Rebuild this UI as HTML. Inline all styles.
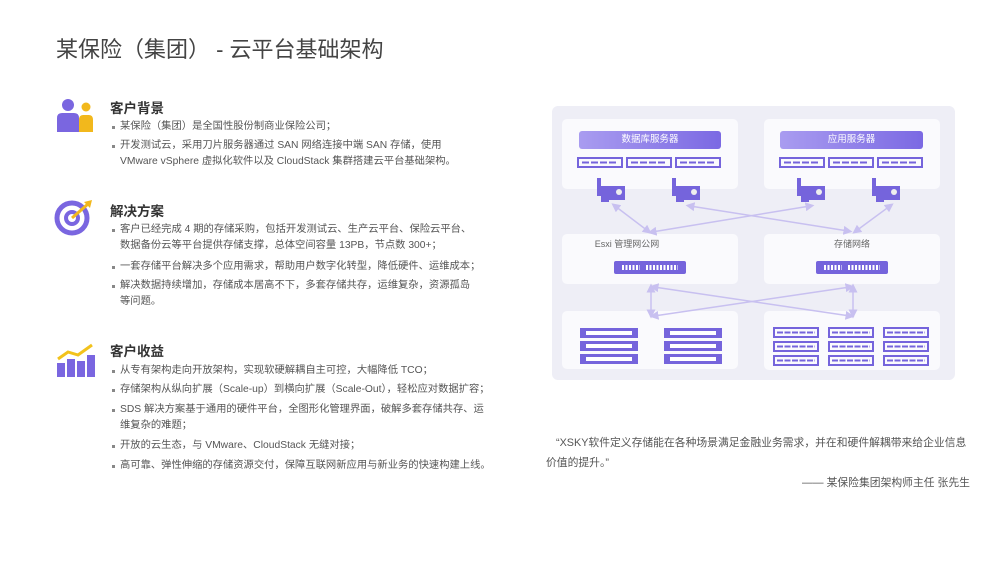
<!DOCTYPE html>
<html><head><meta charset="utf-8"><style>
body{margin:0;width:1000px;height:562px;background:#fff;position:relative;overflow:hidden;font-family:"Liberation Sans","Noto Sans CJK SC",sans-serif;color:#555}
.a{position:absolute;white-space:nowrap}
.t{font-size:10.3px;line-height:12px;color:#555}
.q{font-size:10.8px;line-height:12px;color:#555}
.h{font-size:13.5px;font-weight:bold;color:#333}
.b::before{content:"";position:absolute;left:-8px;top:5px;width:3px;height:3px;background:#888}
.box{position:absolute;background:#fafafd;border-radius:5px}
.lbl{position:absolute;font-size:9px;color:#666;text-align:center}
</style></head><body>
<div class="a" style="left:56px;top:32px;font-size:22px;color:#444">某保险（集团） - 云平台基础架构</div>

<svg class="a" style="left:56px;top:98px" width="40" height="34"><circle cx="12" cy="7" r="6" fill="#7a66e0"/><path d="M1 34 V20 Q1 15 6 15 H18 Q23 15 23 20 V34Z" fill="#7a66e0"/><circle cx="30" cy="9" r="4.5" fill="#f2b81c"/><path d="M23 34 V22 Q23 17 27 17 H33 Q37 17 37 22 V34Z" fill="#f2b81c"/></svg>
<svg class="a" style="left:54px;top:198px" width="40" height="38"><circle cx="18" cy="20" r="15" fill="none" stroke="#7a66e0" stroke-width="5"/><circle cx="18" cy="20" r="6" fill="none" stroke="#7a66e0" stroke-width="4"/><path d="M18 20 L34 6" stroke="#f2b81c" stroke-width="3"/><path d="M30 4 L38 2 L36 10Z" fill="#f2b81c"/></svg>
<svg class="a" style="left:56px;top:343px" width="40" height="36"><rect x="1" y="20" width="8" height="14" fill="#7a66e0"/><rect x="11" y="16" width="8" height="18" fill="#7a66e0"/><rect x="21" y="18" width="8" height="16" fill="#7a66e0"/><rect x="31" y="12" width="8" height="22" fill="#7a66e0"/><path d="M2 16 L12 9 L22 12 L36 2" stroke="#f2c21c" stroke-width="3" fill="none"/></svg>

<div class="a h" style="left:110px;top:97px">客户背景</div>
<div class="a t b" style="left:120px;top:121px">某保险（集团）是全国性股份制商业保险公司；</div>
<div class="a t b" style="left:120px;top:140px">开发测试云，采用刀片服务器通过 SAN 网络连接中端 SAN 存储，使用</div>
<div class="a t" style="left:120px;top:156px">VMware vSphere 虚拟化软件以及 CloudStack 集群搭建云平台基础架构。</div>

<div class="a h" style="left:110px;top:200px">解决方案</div>
<div class="a t b" style="left:120px;top:224px">客户已经完成 4 期的存储采购，包括开发测试云、生产云平台、保险云平台、</div>
<div class="a t" style="left:120px;top:240px">数据备份云等平台提供存储支撑，总体空间容量 13PB，节点数 300+；</div>
<div class="a t b" style="left:120px;top:261px">一套存储平台解决多个应用需求，帮助用户数字化转型，降低硬件、运维成本；</div>
<div class="a t b" style="left:120px;top:280px">解决数据持续增加，存储成本居高不下，多套存储共存，运维复杂，资源孤岛</div>
<div class="a t" style="left:120px;top:296px">等问题。</div>

<div class="a h" style="left:110px;top:340px">客户收益</div>
<div class="a t b" style="left:120px;top:365px">从专有架构走向开放架构，实现软硬解耦自主可控，大幅降低 TCO；</div>
<div class="a t b" style="left:120px;top:384px">存储架构从纵向扩展（Scale-up）到横向扩展（Scale-Out），轻松应对数据扩容；</div>
<div class="a t b" style="left:120px;top:404px">SDS 解决方案基于通用的硬件平台，全图形化管理界面，破解多套存储共存、运</div>
<div class="a t" style="left:120px;top:420px">维复杂的难题；</div>
<div class="a t b" style="left:120px;top:440px">开放的云生态，与 VMware、CloudStack 无缝对接；</div>
<div class="a t b" style="left:120px;top:460px">高可靠、弹性伸缩的存储资源交付，保障互联网新应用与新业务的快速构建上线。</div>

<div class="box" style="left:552px;top:106px;width:403px;height:274px;background:#eeeef6;border-radius:6px"></div>
<div class="box" style="left:562px;top:119px;width:176px;height:70px"></div>
<div class="box" style="left:764px;top:119px;width:176px;height:70px"></div>
<div class="box" style="left:562px;top:234px;width:176px;height:50px"></div>
<div class="box" style="left:764px;top:234px;width:176px;height:50px"></div>
<div class="box" style="left:562px;top:311px;width:176px;height:58px"></div>
<div class="box" style="left:764px;top:311px;width:176px;height:59px"></div>
<div class="a" style="left:579px;top:131px;width:142px;height:18px;background:linear-gradient(90deg,#a99cf0,#7b69e3);border-radius:3px;color:#fff;font-size:9.5px;line-height:18px;text-align:center">数据库服务器</div>
<div class="a" style="left:780px;top:131px;width:143px;height:18px;background:linear-gradient(90deg,#a99cf0,#7b69e3);border-radius:3px;color:#fff;font-size:9.5px;line-height:18px;text-align:center">应用服务器</div>
<div class="lbl" style="left:562px;top:237px;width:130px">Esxi 管理网公网</div>
<div class="lbl" style="left:764px;top:237px;width:176px">存储网络</div>
<svg class="a" style="left:552px;top:106px" width="403" height="274">
<defs>
<g id="srv"><rect x="0" y="0" width="44" height="9" fill="none" stroke="#7564dc" stroke-width="2"/><path d="M4 4.5 H40" stroke="#7564dc" stroke-width="2" stroke-dasharray="7 2"/></g>
<g id="nic"><path d="M0 0 H4 V8 H28 V22 H12 V24 H4 V18 H0Z" fill="#7564dc"/><circle cx="22" cy="14" r="3" fill="#eee"/></g>
<g id="sw"><rect x="0" y="0" width="72" height="13" rx="2" fill="#7564dc"/><path d="M8 6.5 H26 M32 6.5 H64" stroke="#fff" stroke-width="5" stroke-dasharray="2 1.5"/></g>
<g id="dsk"><rect x="0" y="0" width="58" height="10" fill="#7564dc"/><rect x="6" y="3" width="46" height="4" fill="#fff"/></g>
<g id="st"><rect x="0" y="0" width="44" height="9" fill="none" stroke="#7564dc" stroke-width="2"/><path d="M3 4.5 H41" stroke="#7564dc" stroke-width="2" stroke-dasharray="6 1.5"/></g>
<marker id="ar" markerWidth="6" markerHeight="6" refX="3" refY="3" orient="auto-start-reverse"><path d="M0 0 L6 3 L0 6Z" fill="#c8c0f0"/></marker>
</defs>
<use href="#srv" x="26" y="52"/><use href="#srv" x="75" y="52"/><use href="#srv" x="124" y="52"/>
<use href="#srv" x="228" y="52"/><use href="#srv" x="277" y="52"/><use href="#srv" x="326" y="52"/>
<use href="#nic" x="45" y="72"/><use href="#nic" x="120" y="72"/><use href="#nic" x="245" y="72"/><use href="#nic" x="320" y="72"/>
<g stroke="#c8c0f0" stroke-width="1.5" fill="none" marker-start="url(#ar)" marker-end="url(#ar)">
<line x1="63" y1="100" x2="96" y2="125"/><line x1="138" y1="100" x2="296" y2="125"/>
<line x1="258" y1="100" x2="100" y2="126"/><line x1="338" y1="100" x2="304" y2="125"/>
<line x1="99" y1="182" x2="99" y2="208"/><line x1="301" y1="182" x2="301" y2="208"/>
<line x1="102" y1="181" x2="298" y2="210"/><line x1="298" y1="181" x2="102" y2="210"/>
</g>
<use href="#sw" x="62" y="155"/><use href="#sw" x="264" y="155"/>
<use href="#dsk" x="28" y="222"/><use href="#dsk" x="28" y="235"/><use href="#dsk" x="28" y="248"/>
<use href="#dsk" x="112" y="222"/><use href="#dsk" x="112" y="235"/><use href="#dsk" x="112" y="248"/>
<use href="#st" x="222" y="222"/><use href="#st" x="277" y="222"/><use href="#st" x="332" y="222"/>
<use href="#st" x="222" y="236"/><use href="#st" x="277" y="236"/><use href="#st" x="332" y="236"/>
<use href="#st" x="222" y="250"/><use href="#st" x="277" y="250"/><use href="#st" x="332" y="250"/>
</svg>

<div class="a q" style="left:556px;top:437px">“XSKY软件定义存储能在各种场景满足金融业务需求，并在和硬件解耦带来给企业信息</div>
<div class="a q" style="left:546px;top:457px">价值的提升。”</div>
<div class="a q" style="left:802px;top:477px">—— 某保险集团架构师主任  张先生</div>
</body></html>
